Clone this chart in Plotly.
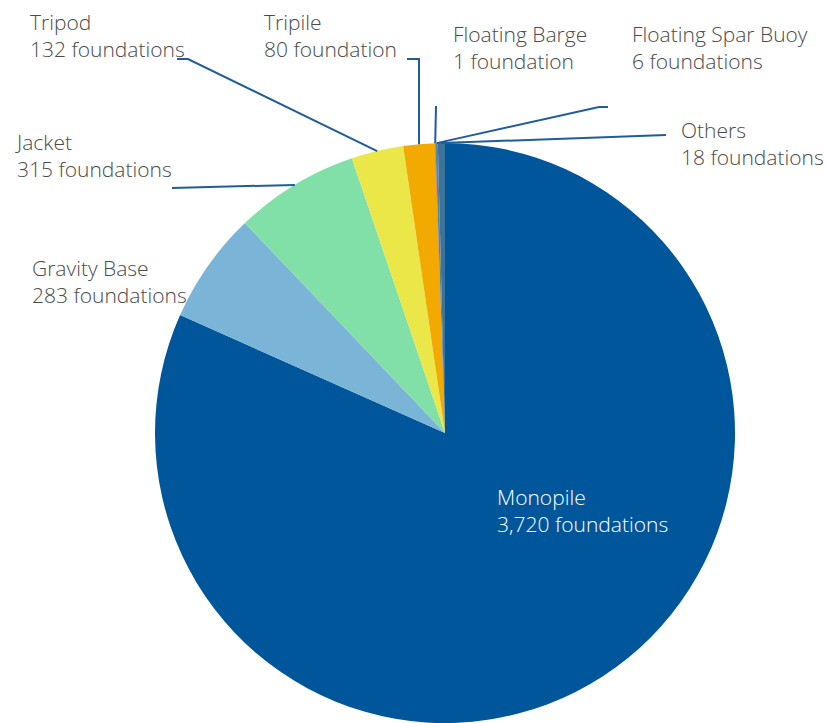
import math
import plotly.graph_objects as go

# Offshore wind foundation types
categories = ["Monopile", "Gravity Base", "Jacket", "Tripod", "Tripile",
              "Floating Barge", "Floating Spar Buoy", "Others"]
foundations = [3720, 283, 315, 132, 80, 1, 6, 18]
unit_words = ["foundations", "foundations", "foundations", "foundations",
              "foundation", "foundation", "foundations", "foundations"]
colors = ["#00569a", "#7ab4d6", "#80e0a8", "#ebe748", "#f2a900",
          "#e1203a", "#4f86ad", "#3b7399"]

W, H = 826, 723

# pie box in pixels (left, right, top, bottom)
box_l, box_r, box_t, box_b = 153, 737, 143, 723
cx = (box_l + box_r) / 2
cy = (box_t + box_b) / 2
radius = min(box_r - box_l, box_b - box_t) / 2

# label placement: top-left of text block and leader elbow points (pixels)
label_layout = {
    "Monopile":           dict(pos=(495, 481), color="#ffffff", leader=[]),
    "Gravity Base":       dict(pos=(30, 252), color="#4a4a4a", leader=[]),
    "Jacket":             dict(pos=(13, 126), color="#4a4a4a", leader=[(172, 188)]),
    "Tripod":             dict(pos=(28, 6), color="#4a4a4a", leader=[(177, 59), (188, 59)]),
    "Tripile":            dict(pos=(262, 6), color="#4a4a4a", leader=[(407, 59), (419, 59)]),
    "Floating Barge":     dict(pos=(451, 18), color="#4a4a4a", leader=[(436, 106)]),
    "Floating Spar Buoy": dict(pos=(630, 18), color="#4a4a4a", leader=[(608, 107), (599, 107)]),
    "Others":             dict(pos=(679, 114), color="#4a4a4a", leader=[(666, 135)]),
}

FONT = "Open Sans"


def px(x):
    return x / W


def py(y):
    return 1 - y / H


fig = go.Figure(go.Pie(
    labels=categories,
    values=foundations,
    marker=dict(colors=colors, line=dict(width=0)),
    sort=False,
    direction="clockwise",
    rotation=0,
    textinfo="none",
    hoverinfo="label+value",
    showlegend=False,
    domain=dict(x=[px(box_l), px(box_r)], y=[py(box_b), py(box_t)]),
))

total = sum(foundations)
shapes = []
annotations = []
cum = 0
for name, val, unit in zip(categories, foundations, unit_words):
    mid = (cum + val / 2) / total
    cum += val
    ang = 2 * math.pi * mid
    ax = cx + radius * math.sin(ang)
    ay = cy - radius * math.cos(ang)
    cfg = label_layout[name]
    if cfg["leader"]:
        pts = cfg["leader"] + [(ax, ay)]
        path = "M " + " L ".join(f"{px(x):.5f},{py(y):.5f}" for x, y in pts)
        shapes.append(dict(type="path", xref="paper", yref="paper", path=path,
                           line=dict(color="#1f5c9c", width=2)))
    tx, ty = cfg["pos"]
    annotations.append(dict(
        xref="paper", yref="paper", x=px(tx), y=py(ty),
        xanchor="left", yanchor="top", align="left", showarrow=False,
        text=f"{name}<br>{val:,} {unit}",
        font=dict(family=FONT, size=21, color=cfg["color"], weight=300),
    ))

fig.update_layout(
    width=W, height=H,
    margin=dict(l=0, r=0, t=0, b=0),
    paper_bgcolor="#ffffff",
    plot_bgcolor="#ffffff",
    shapes=shapes,
    annotations=annotations,
)

fig.write_html("out.html")
